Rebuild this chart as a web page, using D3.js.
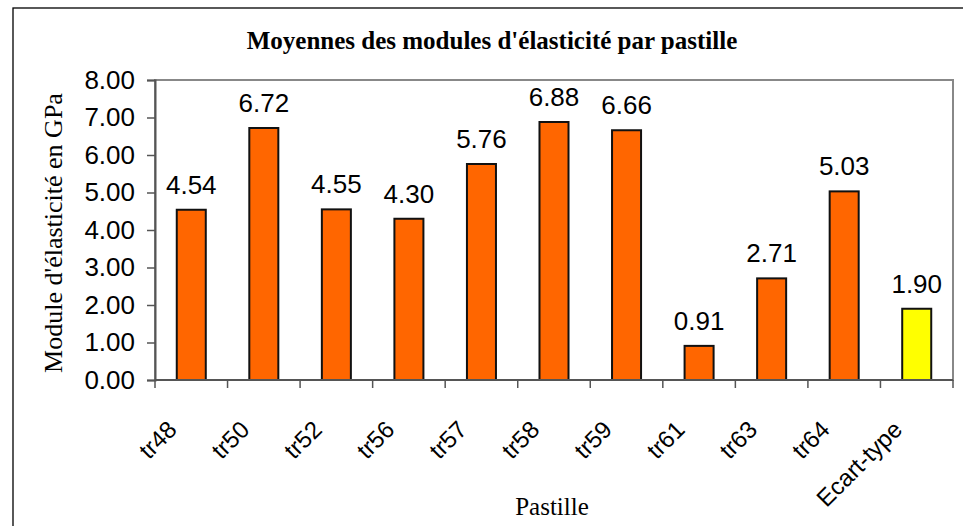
<!DOCTYPE html>
<html>
<head>
<meta charset="utf-8">
<script src="https://cdn.jsdelivr.net/npm/d3@7"></script>
<style>
  html, body { margin: 0; padding: 0; background: #fff; }
  svg { display: block; }
</style>
</head>
<body>
<svg id="chart" width="963" height="526"></svg>
<script>
// Mean elastic modulus per pellet, plus the standard deviation bar
const categories = ["tr48", "tr50", "tr52", "tr56", "tr57", "tr58", "tr59", "tr61", "tr63", "tr64", "Ecart-type"];
const values = [4.54, 6.72, 4.55, 4.30, 5.76, 6.88, 6.66, 0.91, 2.71, 5.03, 1.90];
const barColors = ["#FF6600", "#FF6600", "#FF6600", "#FF6600", "#FF6600", "#FF6600", "#FF6600", "#FF6600", "#FF6600", "#FF6600", "#FFFF00"];
const yTicks = [0, 1, 2, 3, 4, 5, 6, 7, 8];

const sansFont = "Liberation Sans, Arial, sans-serif";
const serifFont = "Liberation Serif, Times New Roman, serif";

const svg = d3.select("#chart");
const plot = { left: 155, top: 80, right: 953, bottom: 380 };

// Outer chart frame
svg.append("rect")
  .attr("x", 13).attr("y", 8)
  .attr("width", 980).attr("height", 540)
  .attr("fill", "#fff").attr("stroke", "#000").attr("stroke-width", 1.3);

const x = d3.scaleBand().domain(categories).range([plot.left, plot.right]).paddingInner(0.6).paddingOuter(0.3);
const xb = d3.scaleBand().domain(categories).range([plot.left, plot.right]);
const y = d3.scaleLinear().domain([0, 8]).range([plot.bottom, plot.top]);

// Plot area border (grey)
svg.append("rect")
  .attr("x", plot.left).attr("y", plot.top)
  .attr("width", plot.right - plot.left).attr("height", plot.bottom - plot.top)
  .attr("fill", "none").attr("stroke", "#888").attr("stroke-width", 2);

// Bars
svg.append("g").selectAll("rect").data(values).join("rect")
  .attr("x", (d, i) => x(categories[i]))
  .attr("y", d => y(d))
  .attr("width", x.bandwidth())
  .attr("height", d => y(0) - y(d))
  .attr("fill", (d, i) => barColors[i])
  .attr("stroke", "#111").attr("stroke-width", 2);

// Value labels
svg.append("g").selectAll("text").data(values).join("text")
  .attr("x", (d, i) => x(categories[i]) + x.bandwidth() / 2)
  .attr("y", d => y(d) - 16)
  .attr("text-anchor", "middle")
  .attr("font-family", sansFont)
  .attr("font-size", 26)
  .attr("fill", "#000")
  .text(d => d.toFixed(2));

// Y axis
const yAxis = d3.axisLeft(y).tickValues(yTicks).tickFormat(d => d.toFixed(2)).tickSize(8).tickPadding(12);
const gy = svg.append("g").attr("transform", `translate(${plot.left},0)`).call(yAxis);
gy.select(".domain").attr("stroke", "#555").attr("stroke-width", 2);
gy.selectAll(".tick line").attr("stroke", "#555").attr("stroke-width", 1.5);
gy.selectAll(".tick text")
  .attr("font-family", sansFont)
  .attr("font-size", 26).attr("fill", "#000");

// X axis: ticks on category boundaries
const gx = svg.append("g").attr("transform", `translate(0,${plot.bottom})`);
gx.append("line").attr("x1", plot.left).attr("x2", plot.right).attr("stroke", "#555").attr("stroke-width", 2);
const boundaries = categories.map(c => xb(c)).concat([plot.right]);
gx.selectAll("line.tk").data(boundaries).join("line").attr("class", "tk")
  .attr("x1", d => d).attr("x2", d => d).attr("y1", 0).attr("y2", 8)
  .attr("stroke", "#555").attr("stroke-width", 1.5);
gx.selectAll("text").data(categories).join("text")
  .attr("transform", d => `translate(${xb(d) + xb.bandwidth() / 2 - 13},${51}) rotate(-45)`)
  .attr("text-anchor", "end")
  .attr("font-family", sansFont)
  .attr("font-size", 24).attr("fill", "#000")
  .text(d => d);

// Title
svg.append("text")
  .attr("x", 492).attr("y", 49)
  .attr("text-anchor", "middle")
  .attr("font-family", serifFont)
  .attr("font-weight", "bold").attr("font-size", 25)
  .text("Moyennes des modules d'élasticité par pastille");

// Axis titles
svg.append("text")
  .attr("x", 552).attr("y", 515)
  .attr("text-anchor", "middle")
  .attr("font-family", serifFont)
  .attr("font-size", 25)
  .text("Pastille");

svg.append("text")
  .attr("transform", "translate(62,233) rotate(-90)")
  .attr("text-anchor", "middle")
  .attr("font-family", serifFont)
  .attr("font-size", 26)
  .text("Module d'élasticité en GPa");
</script>
</body>
</html>
